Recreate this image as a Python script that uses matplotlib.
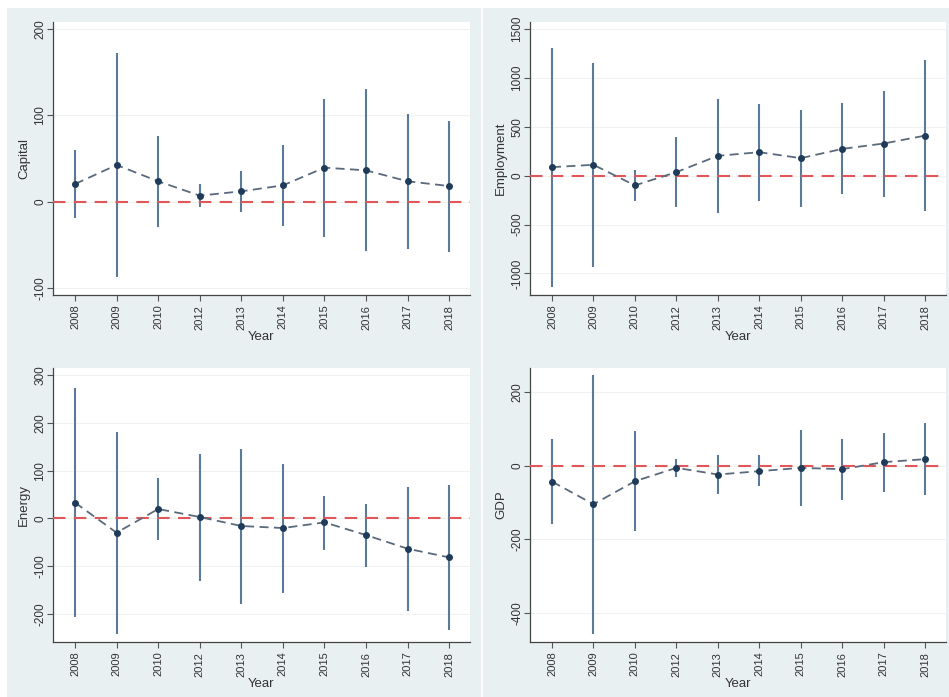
import matplotlib
matplotlib.use('Agg')
import matplotlib.pyplot as plt
from matplotlib.patches import Rectangle
from matplotlib.lines import Line2D

plt.rcParams['font.family'] = ['Liberation Sans', 'DejaVu Sans']

years = ['2008', '2009', '2010', '2012', '2013', '2014', '2015', '2016', '2017', '2018']

# point estimate / upper bound / lower bound
capital = [20.5, 42.5, 23.6, 7.0, 12.0, 18.9, 39.4, 36.3, 23.6, 18.1]
capital_hi = [59.8, 172.6, 76.4, 20.8, 35.1, 65.6, 118.9, 130.1, 101.5, 93.8]
capital_lo = [-19.3, -87.6, -29.7, -6.6, -11.6, -28.2, -41.3, -57.5, -54.8, -57.9]

employment = [88, 112, -99, 37, 204, 241, 180, 275, 330, 411]
employment_hi = [1312, 1153, 61, 398, 782, 731, 677, 741, 870, 1183]
employment_lo = [-1142, -932, -258, -323, -381, -255, -316, -190, -214, -360]

energy = [32.9, -30.0, 19.6, 2.8, -16.0, -20.3, -8.4, -35.0, -63.6, -81.8]
energy_hi = [272.7, 181.8, 83.9, 135.0, 146.0, 114.7, 47.6, 30.0, 66.4, 69.2]
energy_lo = [-206.3, -242.7, -45.5, -130.8, -179.7, -155.9, -66.4, -102.0, -193.7, -234.3]

gdp = [-42.7, -104.5, -41.8, -5.5, -23.6, -14.5, -5.5, -9.1, 10.0, 18.2]
gdp_hi = [72.7, 247.3, 94.5, 18.2, 28.2, 29.1, 97.3, 71.8, 89.1, 115.5]
gdp_lo = [-157.3, -458.0, -177.3, -29.1, -75.5, -55.5, -110.0, -91.8, -70.0, -79.1]

panels = [
    ('Capital', capital, capital_hi, capital_lo, (-108, 208), [-100, 0, 100, 200]),
    ('Employment', employment, employment_hi, employment_lo, (-1221, 1574), [-1000, -500, 0, 500, 1000, 1500]),
    ('Energy', energy, energy_hi, energy_lo, (-259, 315), [-200, -100, 0, 100, 200, 300]),
    ('GDP', gdp, gdp_hi, gdp_lo, (-479, 266), [-400, -200, 0, 200]),
]

W, H = 949, 697
bg = '#e9f0f2'
bar_col = '#5a7a99'
pt_col = '#1f3b5a'
line_col = '#5a6a7c'
red = '#e0575a'

fig = plt.figure(figsize=(W / 100, H / 100), dpi=100, facecolor='white')
# graph region background (white margin on the left/top, white split line in the middle)
fig.patches.append(Rectangle((7 / W, 0), 1, 1 - 8 / H, transform=fig.transFigure,
                             facecolor=bg, edgecolor='none', zorder=-10))
fig.lines.append(Line2D([482 / W, 482 / W], [0, 1 - 8 / H], transform=fig.transFigure,
                        color='white', lw=1.2, zorder=-5))

# axes boxes in pixels: left, top, right, bottom
boxes = [(53, 22, 470, 295), (530, 22, 946, 295), (53, 368, 470, 642), (530, 368, 946, 642)]

x = list(range(1, len(years) + 1))

for (name, est, hi, lo, ylim, yticks), (l, t, r, b) in zip(panels, boxes):
    ax = fig.add_axes([l / W, 1 - b / H, (r - l) / W, (b - t) / H])
    ax.set_facecolor('white')
    for yt in yticks:
        ax.axhline(yt, color='#eef2f3', lw=0.8, zorder=0)
    ax.vlines(x, lo, hi, color=bar_col, lw=1.5, zorder=2)
    ax.axhline(0, color=red, lw=1.5, dashes=(6, 4), zorder=3)
    ax.plot(x, est, color=line_col, lw=1.3, dashes=(5, 3), zorder=4)
    ax.plot(x, est, 'o', color=pt_col, ms=4, zorder=5)

    ax.set_xlim(0.47, 10.5)
    ax.set_ylim(*ylim)
    ax.set_xticks(x)
    ax.set_xticklabels(years, rotation=90, fontsize=8)
    ax.set_yticks(yticks)
    ax.set_yticklabels([str(v) for v in yticks], rotation=90, va='center', fontsize=8.5)
    ax.tick_params(direction='out', length=4, color='#555555', labelcolor='#333333', width=0.8)
    ax.tick_params(axis='x', pad=3)
    ax.tick_params(axis='y', pad=1)
    ax.set_xlabel('Year', fontsize=9.5, color='#333333', labelpad=1)
    ax.set_ylabel(name, fontsize=9.5, color='#333333', labelpad=3)
    for s in ['top', 'right']:
        ax.spines[s].set_visible(False)
    for s in ['left', 'bottom']:
        ax.spines[s].set_color('#444444')
        ax.spines[s].set_linewidth(0.9)

fig.savefig('out.png', dpi=100, facecolor=fig.get_facecolor())
